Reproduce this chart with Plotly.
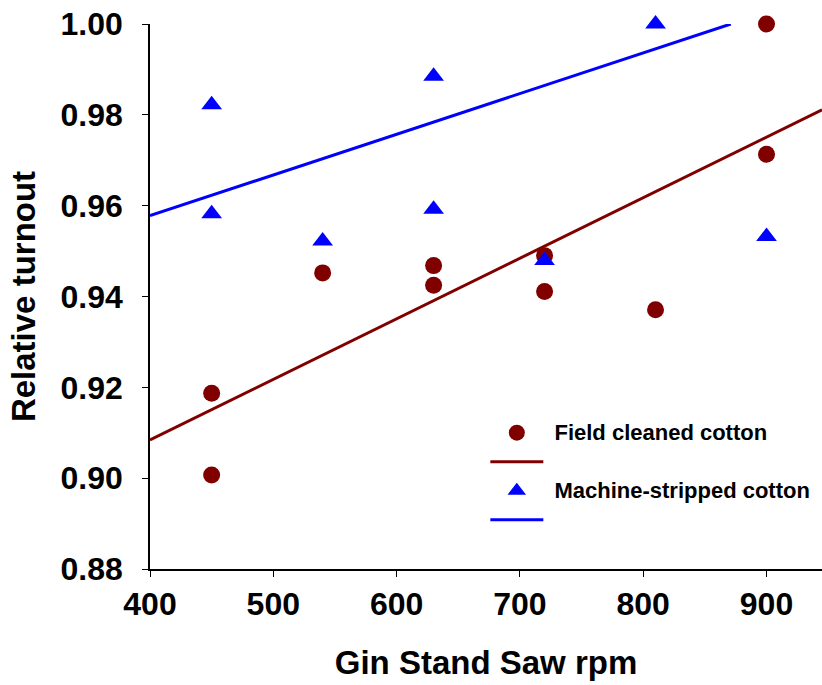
import plotly.graph_objects as go

# Field cleaned cotton
field_rpm = [450, 450, 540, 630, 630, 720, 720, 810, 900, 900]
field_turnout = [0.9187, 0.9007, 0.9452, 0.9468, 0.9425, 0.9490, 0.9411, 0.9371, 1.0000, 0.9713]

# Machine-stripped cotton
strip_rpm = [450, 450, 540, 630, 630, 720, 810, 900]
strip_turnout = [0.9822, 0.9582, 0.9522, 0.9885, 0.9592, 0.9479, 1.0000, 0.9532]

# Trend lines (endpoints)
field_trend_x = [400, 945]
field_trend_y = [0.9084, 0.9811]
strip_trend_x = [400, 871]
strip_trend_y = [0.9578, 1.0000]

x_ticks = [400, 500, 600, 700, 800, 900]
y_ticks = [0.88, 0.90, 0.92, 0.94, 0.96, 0.98, 1.00]
y_labels = ["0.88", "0.90", "0.92", "0.94", "0.96", "0.98", "1.00"]

BROWN = "#800000"
BLUE = "#0000FF"
FONT = "Liberation Sans, Arial, sans-serif"


def leg(txt):
    return f'<span style="font-size:22px">&nbsp;<b>{txt}</b></span>'


fig = go.Figure()
fig.add_trace(go.Scatter(x=field_trend_x, y=field_trend_y, mode="lines", name=" ", legendrank=2,
                         line=dict(color=BROWN, width=3)))
fig.add_trace(go.Scatter(x=strip_trend_x, y=strip_trend_y, mode="lines", name=" ", legendrank=4,
                         line=dict(color=BLUE, width=3)))
fig.add_trace(go.Scatter(x=field_rpm, y=field_turnout, mode="markers", name=leg("Field cleaned cotton"),
                         legendrank=1,
                         marker=dict(symbol="circle", size=17, color=BROWN), cliponaxis=False))
fig.add_trace(go.Scatter(x=strip_rpm, y=strip_turnout, mode="markers", name=leg("Machine-stripped cotton"),
                         legendrank=3,
                         marker=dict(symbol="triangle-up", size=18, color=BLUE), cliponaxis=False))

fig.update_layout(
    width=822, height=685,
    margin=dict(l=150, r=0, t=24, b=116),
    paper_bgcolor="white", plot_bgcolor="white",
    font=dict(family=FONT, color="black"),
    showlegend=True,
    legend=dict(x=0.499, y=0.286, xanchor="left", yanchor="top",
                font=dict(size=20, family=FONT, color="black"),
                bgcolor="rgba(0,0,0,0)", itemwidth=53, traceorder="normal"),
    xaxis=dict(range=[400, 945], tickvals=x_ticks, ticktext=[f"<b>{v}</b>" for v in x_ticks],
               showgrid=False, zeroline=False, showline=True, linecolor="black", linewidth=1.5,
               ticks="outside", ticklen=6, tickcolor="black", tickwidth=1.2, automargin=False,
               tickfont=dict(size=32, family=FONT),
               title=dict(text="<b>Gin Stand Saw rpm</b>", font=dict(size=33, family=FONT), standoff=30)),
    yaxis=dict(range=[0.88, 1.00], tickvals=y_ticks, ticktext=[f"<b>{t}</b>" for t in y_labels],
               showgrid=False, zeroline=False, showline=True, linecolor="black", linewidth=1.5,
               ticks="outside", ticklen=6, tickcolor="black", tickwidth=1.2, automargin=False,
               ticklabelstandoff=13,
               tickfont=dict(size=32, family=FONT),
               title=dict(text="<b>Relative turnout</b>", font=dict(size=33, family=FONT), standoff=15)),
)

fig.write_html("out.html", config={"displayModeBar": False},
               post_script="document.body.style.margin='0';document.body.style.overflow='hidden';")
